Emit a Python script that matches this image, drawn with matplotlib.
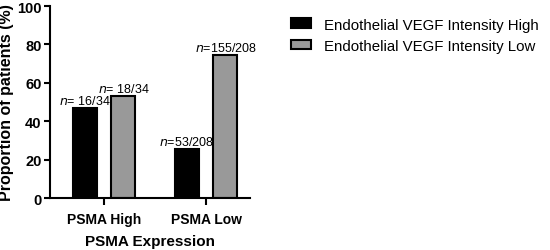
import numpy as np
import matplotlib.pyplot as plt

plt.rcParams['font.family'] = ['Liberation Sans', 'DejaVu Sans']

groups = ["PSMA High", "PSMA Low"]
high_vals = [16 / 34 * 100, 53 / 208 * 100]
low_vals = [18 / 34 * 100, 155 / 208 * 100]
high_labels = ["= 16/34", "=53/208"]
low_labels = ["= 18/34", "=155/208"]
series_names = ["Endothelial VEGF Intensity High", "Endothelial VEGF Intensity Low"]

fig = plt.figure(figsize=(5.5, 2.51), dpi=100)
ax = fig.add_axes([0.0909, 0.207, 0.3636, 0.765])

x = np.arange(len(groups))
w = 0.235
off = 0.19
b1 = ax.bar(x - off, high_vals, w, color="black", edgecolor="black", linewidth=1.5, label=series_names[0])
b2 = ax.bar(x + off, low_vals, w, color="#999999", edgecolor="black", linewidth=1.5, label=series_names[1])

for xi, v, t in zip(x - off, high_vals, high_labels):
    ax.text(xi, v + 0.5, r"$\it{n}$" + t, ha="center", va="bottom", fontsize=9)
for xi, v, t in zip(x + off, low_vals, low_labels):
    ax.text(xi, v + 0.5, r"$\it{n}$" + t, ha="center", va="bottom", fontsize=9)

ax.set_xlim(-0.53, 1.43)
ax.set_ylim(0, 100)
ax.set_yticks([0, 20, 40, 60, 80, 100])
ax.set_xticks(x)
ax.set_xticklabels(groups, fontweight="bold", fontsize=10)
for lab in ax.get_yticklabels():
    lab.set_fontweight("bold")
    lab.set_fontsize(10.5)
ax.set_ylabel("Proportion of patients (%)", fontweight="bold", fontsize=11.5)
ax.yaxis.set_label_coords(-0.18, 0.5)
ax.set_xlabel("PSMA Expression", fontweight="bold", fontsize=11, labelpad=6)
ax.spines["top"].set_visible(False)
ax.spines["right"].set_visible(False)
ax.spines["left"].set_linewidth(1.5)
ax.spines["bottom"].set_linewidth(1.5)
ax.tick_params(axis="y", width=1.5, length=4, pad=2)
ax.tick_params(axis="x", width=1.5, length=5, pad=5)

fig.legend(handles=[b1, b2], loc="upper left", bbox_to_anchor=(0.505, 0.98), frameon=False,
           fontsize=10.8, handlelength=1.3, handleheight=0.6, handletextpad=0.9)

fig.savefig("out.png", dpi=100)
